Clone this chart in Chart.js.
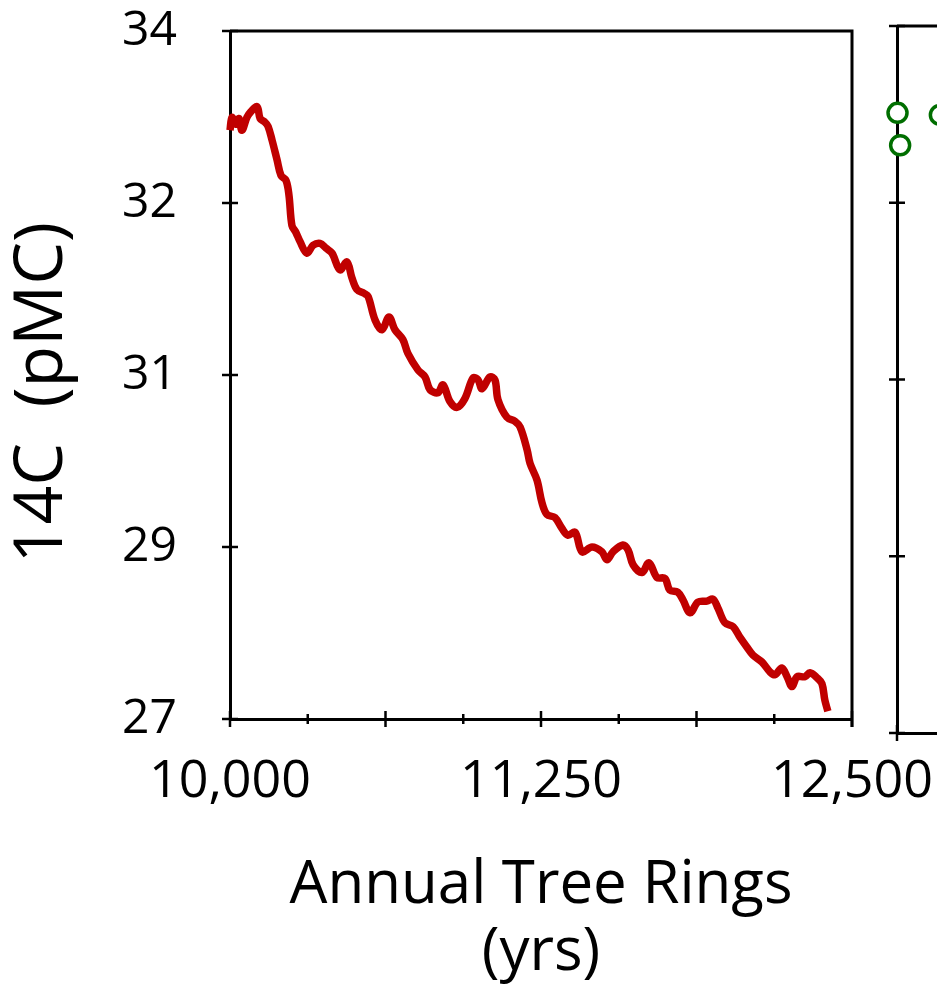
<!DOCTYPE html>
<html>
<head>
<meta charset="utf-8">
<script src="https://cdn.jsdelivr.net/npm/chart.js@4.4.1/dist/chart.umd.min.js"></script>
<style>
  html, body { margin: 0; padding: 0; background: #fff; overflow: hidden; }
  #wrap { position: relative; width: 937px; height: 995px; overflow: hidden; }
  #mainChart { position: absolute; left: 0; top: 0; }
  #sideChart { position: absolute; left: 860px; top: 0; }
</style>
</head>
<body>
<div id="wrap">
  <canvas id="mainChart" width="937" height="995"></canvas>
  <canvas id="sideChart" width="600" height="995"></canvas>
</div>
<script>
// tree ring years and 14C values
const treeYears = [10000,10008,10024,10036,10048,10068,10084,10109,10121,10141,10153,10169,10189,10205,10225,10237,10249,10265,10281,10309,10334,10362,10386,10410,10442,10470,10490,10510,10539,10555,10583,10611,10639,10663,10695,10715,10756,10784,10804,10836,10856,10884,10912,10944,10977,10997,11013,11045,11065,11077,11113,11145,11166,11194,11206,11234,11254,11274,11306,11334,11358,11387,11415,11455,11495,11515,11539,11579,11600,11620,11656,11684,11716,11748,11768,11800,11821,11849,11881,11917,11941,11961,11989,12022,12050,12078,12102,12138,12170,12190,12218,12239,12259,12279,12311,12331,12359,12379,12391,12403];
const pmcValues = [32.99,33.12,33.05,33.11,32.99,33.12,33.18,33.23,33.11,33.07,33.03,32.89,32.69,32.53,32.48,32.33,32.02,31.95,31.86,31.74,31.82,31.84,31.79,31.74,31.57,31.65,31.49,31.37,31.33,31.30,31.06,30.96,31.09,30.96,30.86,30.72,30.55,30.48,30.35,30.32,30.40,30.23,30.17,30.26,30.47,30.45,30.36,30.48,30.45,30.25,30.07,30.03,29.97,29.74,29.60,29.43,29.20,29.08,29.05,28.94,28.87,28.90,28.70,28.75,28.70,28.62,28.70,28.77,28.72,28.57,28.49,28.59,28.44,28.43,28.31,28.29,28.21,28.08,28.19,28.20,28.22,28.13,27.98,27.94,27.83,27.73,27.65,27.58,27.48,27.45,27.52,27.43,27.33,27.43,27.43,27.47,27.42,27.36,27.19,27.08];

// y ticks are evenly spaced but labelled like this in the original
const yTickValues = [27, 28.75, 30.5, 32.25, 34];
const yTickLabels = ['27', '29', '31', '32', '34'];
const xLabelStep = 1250;   // labelled ticks
const xMajorStep = 625;    // long tick marks
const xMinorStep = 312.5;  // short tick marks

// second panel (only its left edge is visible)
const sideX = [0.1, 0.6, 8.2];
const sideY = [33.14, 32.82, 33.12];

Chart.defaults.font.family = "'Open Sans', sans-serif";
Chart.defaults.color = '#000';

// ticks that cross the axis line, plus the frame on top / right
const crossTicks = {
    id: 'crossTicks',
    beforeDatasetsDraw(chart, args, opts) {
        const ctx = chart.ctx;
        const area = chart.chartArea;
        ctx.save();
        ctx.strokeStyle = '#000';
        ctx.lineWidth = 2.5;
        (opts.axes || []).forEach(function(a) {
            const scale = chart.scales[a.id];
            scale.ticks.forEach(function(t) {
                const len = a.isMajor && !a.isMajor(t.value) ? a.minor : a.major;
                const p = scale.getPixelForValue(t.value);
                ctx.beginPath();
                if (scale.isHorizontal()) {
                    ctx.moveTo(p, scale.top - len);
                    ctx.lineTo(p, scale.top + len);
                } else {
                    ctx.moveTo(scale.right - len, p);
                    ctx.lineTo(scale.right + len, p);
                }
                ctx.stroke();
            });
        });
        ctx.lineWidth = 3;
        ctx.beginPath();
        if (opts.frameTop) {
            ctx.moveTo(area.left, area.top);
            ctx.lineTo(area.right + 1.5, area.top);
        }
        if (opts.frameRight) {
            ctx.moveTo(area.right, area.top);
            ctx.lineTo(area.right, area.bottom + 8);
        }
        ctx.stroke();
        ctx.restore();
    }
};

const mainData = treeYears.map((yr, i) => ({ x: yr, y: pmcValues[i] }));

const mainChart = new Chart(document.getElementById('mainChart'), {
    type: 'line',
    data: {
        datasets: [{
            label: '14C',
            data: mainData,
            borderColor: '#C00000',
            borderWidth: 7.5,
            pointRadius: 0,
            tension: 0.35,
            fill: false,
            clip: false
        }]
    },
    options: {
        responsive: false,
        animation: false,
        layout: { padding: { left: 0, top: 31, right: 85, bottom: 0 } },
        plugins: {
            legend: { display: false },
            tooltip: { enabled: false },
            crossTicks: {
                frameTop: true,
                frameRight: true,
                axes: [
                    { id: 'x', major: 8, minor: 5, isMajor: v => v % xMajorStep === 0 },
                    { id: 'y', major: 8 }
                ]
            }
        },
        scales: {
            x: {
                type: 'linear',
                position: 'bottom',
                min: 10000,
                max: 12500,
                afterFit: s => { s.height = 276; },
                ticks: {
                    stepSize: xMinorStep,
                    autoSkip: false,
                    maxRotation: 0,
                    minRotation: 0,
                    padding: 0,
                    font: { size: 52 },
                    callback: v => v % xLabelStep === 0 ? v.toLocaleString('en-US') : ''
                },
                // tick marks come from the crossTicks plugin; tickLength only spaces the labels
                grid: { display: false, drawTicks: true, tickLength: 32 },
                border: { display: true, color: '#000', width: 3 },
                title: {
                    display: true,
                    text: ['Annual Tree Rings', '(yrs)'],
                    font: { size: 60, lineHeight: 1.12 },
                    padding: { top: 0, bottom: 8 }
                }
            },
            y: {
                type: 'linear',
                position: 'left',
                min: 27,
                max: 34,
                afterFit: s => { s.width = 230; },
                afterBuildTicks: s => { s.ticks = yTickValues.map(v => ({ value: v })); },
                ticks: {
                    padding: 0,
                    font: { size: 48 },
                    callback: (v, i) => yTickLabels[i]
                },
                grid: { display: false, drawTicks: true, tickLength: 53 },
                border: { display: true, color: '#000', width: 3 },
                title: {
                    display: true,
                    text: '14C  (pMC)  ',
                    font: { size: 68 },
                    padding: { top: 2, bottom: 0 }
                }
            }
        }
    },
    plugins: [crossTicks]
});

const sideChart = new Chart(document.getElementById('sideChart'), {
    type: 'scatter',
    data: {
        datasets: [{
            label: 'side',
            data: sideX.map((x, i) => ({ x: x, y: sideY[i] })),
            pointRadius: 9.5,
            pointBorderWidth: 3.5,
            pointBorderColor: '#006E00',
            pointBackgroundColor: '#fff',
            clip: false
        }]
    },
    options: {
        responsive: false,
        animation: false,
        layout: { padding: { left: 0, top: 26, right: 40, bottom: 0 } },
        plugins: {
            legend: { display: false },
            tooltip: { enabled: false },
            crossTicks: { frameTop: true, axes: [ { id: 'x', major: 8 }, { id: 'y', major: 8 } ] }
        },
        scales: {
            x: {
                type: 'linear',
                min: 0,
                max: 100,
                afterFit: s => { s.height = 262; },
                ticks: { display: false, stepSize: 20 },
                grid: { display: false, drawTicks: false },
                border: { display: true, color: '#000', width: 3 }
            },
            y: {
                type: 'linear',
                min: 27,
                max: 34,
                afterFit: s => { s.width = 37; },
                afterBuildTicks: s => { s.ticks = yTickValues.map(v => ({ value: v })); },
                ticks: { display: false },
                grid: { display: false, drawTicks: false },
                border: { display: true, color: '#000', width: 3 }
            }
        }
    },
    plugins: [crossTicks]
});
</script>
</body>
</html>
